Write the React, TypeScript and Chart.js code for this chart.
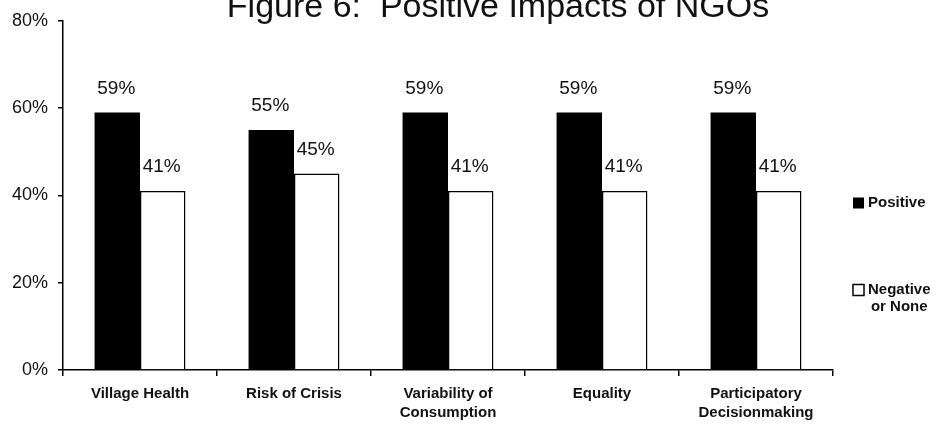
import { useEffect, useRef } from 'react';
import { Chart, registerables } from 'chart.js';

Chart.register(...registerables);

// Categories (multi-line labels are arrays of lines)
const categories: string[][] = [
  ['Village Health'],
  ['Risk of Crisis'],
  ['Variability of', 'Consumption'],
  ['Equality'],
  ['Participatory', 'Decisionmaking'],
];

// Share of respondents (%)
const positive = [59, 55, 59, 59, 59];
const negativeOrNone = [41, 45, 41, 41, 41];

const seriesNames = ['Positive', 'Negative or None'];
const legendLines = [['Positive'], ['Negative', 'or None']];
const chartTitle = 'Figure 6:  Positive Impacts of NGOs';

const yMin = 0;
const yMax = 80;
const yStep = 20;

const FONT = '"Liberation Sans", Arial, Helvetica, sans-serif';
const INK = '#111';

// Title drawn across the top of the canvas
const titlePlugin = {
  id: 'figureTitle',
  afterDraw(chart: any) {
    const { ctx } = chart;
    ctx.save();
    ctx.font = `34px ${FONT}`;
    ctx.fillStyle = INK;
    ctx.textAlign = 'center';
    ctx.textBaseline = 'alphabetic';
    ctx.fillText(chartTitle, 498, 17);
    ctx.restore();
  },
};

// Percent labels above each bar
const valueLabelPlugin = {
  id: 'valueLabels',
  afterDatasetsDraw(chart: any) {
    const { ctx } = chart;
    ctx.save();
    ctx.font = `19px ${FONT}`;
    ctx.fillStyle = INK;
    ctx.textAlign = 'center';
    ctx.textBaseline = 'middle';
    chart.data.datasets.forEach((ds: any, i: number) => {
      const meta = chart.getDatasetMeta(i);
      meta.data.forEach((bar: any, j: number) => {
        ctx.fillText(`${ds.data[j]}%`, bar.x - 1, bar.y - 24);
      });
    });
    ctx.restore();
  },
};

// Legend on the right: filled / outlined squares with labels
const sideLegendPlugin = {
  id: 'sideLegend',
  afterDraw(chart: any) {
    const { ctx } = chart;
    const rows = [203, 290];
    const boxX = 853;
    const box = 11;
    const textX = 868;
    const lineGap = 17;
    ctx.save();
    ctx.font = `bold 15px ${FONT}`;
    ctx.textBaseline = 'middle';
    chart.data.datasets.forEach((ds: any, i: number) => {
      const cy = rows[i];
      ctx.fillStyle = ds.backgroundColor;
      ctx.fillRect(boxX, cy - box / 2, box, box);
      if (ds.borderWidth) {
        ctx.strokeStyle = '#000';
        ctx.lineWidth = 1.5;
        ctx.strokeRect(boxX, cy - box / 2, box, box);
      }
      ctx.fillStyle = INK;
      const lines = legendLines[i];
      const firstW = ctx.measureText(lines[0]).width;
      ctx.textAlign = 'left';
      ctx.fillText(lines[0], textX, cy);
      for (let k = 1; k < lines.length; k++) {
        ctx.textAlign = 'center';
        ctx.fillText(lines[k], textX + firstW / 2, cy + lineGap * k);
      }
    });
    ctx.restore();
  },
};

export default function App() {
  const canvasRef = useRef<HTMLCanvasElement | null>(null);

  useEffect(() => {
    if (!canvasRef.current) return;
    const chart = new Chart(canvasRef.current, {
      type: 'bar',
      data: {
        labels: categories,
        datasets: [
          {
            label: seriesNames[0],
            data: positive,
            backgroundColor: '#000000',
            borderWidth: 0,
          },
          {
            label: seriesNames[1],
            data: negativeOrNone,
            backgroundColor: '#ffffff',
            borderColor: '#000000',
            borderWidth: 1.5,
          },
        ],
      },
      options: {
        responsive: false,
        maintainAspectRatio: false,
        animation: false,
        devicePixelRatio: 1,
        layout: { padding: { left: 0, top: 18, right: 103, bottom: 0 } },
        datasets: {
          bar: { categoryPercentage: 0.59, barPercentage: 1.0 },
        },
        plugins: {
          legend: { display: false },
          title: { display: false },
          tooltip: { enabled: false },
        },
        scales: {
          x: {
            grid: {
              display: true,
              drawOnChartArea: false,
              drawTicks: true,
              tickLength: 6,
              color: '#000',
              lineWidth: 1.5,
              offset: true,
            },
            border: { display: true, color: '#000', width: 1.5 },
            ticks: {
              color: INK,
              font: { family: FONT, size: 15, weight: 'bold', lineHeight: 1.3 },
              padding: 8,
              maxRotation: 0,
              autoSkip: false,
            },
            afterFit(scale: any) {
              scale.height = 55;
            },
          },
          y: {
            min: yMin,
            max: yMax,
            grid: {
              display: true,
              drawOnChartArea: false,
              drawTicks: true,
              tickLength: 5,
              color: '#000',
              lineWidth: 1.5,
            },
            border: { display: true, color: '#000', width: 1.5 },
            ticks: {
              stepSize: yStep,
              color: INK,
              font: { family: FONT, size: 18 },
              padding: 10,
              callback: (v: any) => `${v}%`,
            },
            afterFit(scale: any) {
              scale.width = 63;
            },
          },
        },
      },
      plugins: [valueLabelPlugin, titlePlugin, sideLegendPlugin],
    });
    return () => chart.destroy();
  }, []);

  return (
    <div style={{ position: 'absolute', left: 0, top: 0, width: 936, height: 425, background: '#fff' }}>
      <canvas ref={canvasRef} width={936} height={425} style={{ display: 'block', width: 936, height: 425 }} />
    </div>
  );
}
